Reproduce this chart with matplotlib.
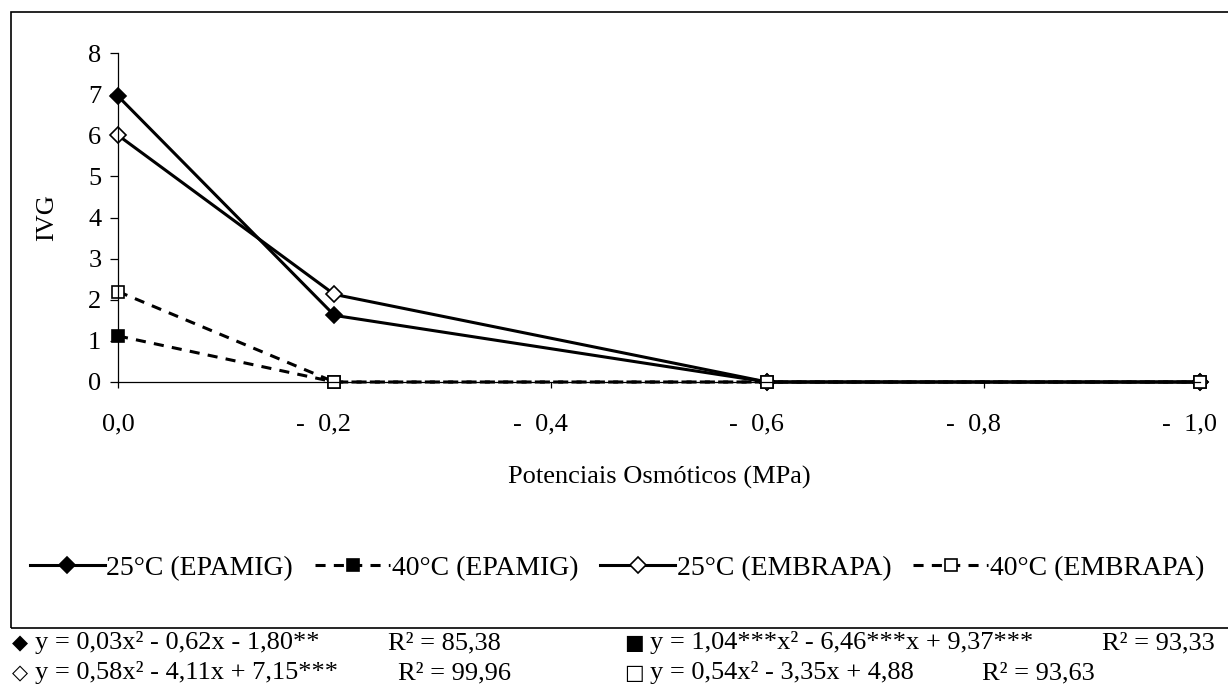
import numpy as np
import matplotlib
matplotlib.use("Agg")
import matplotlib.pyplot as plt
from matplotlib.patches import Rectangle
from matplotlib.transforms import ScaledTranslation

plt.rcParams['font.family'] = ['Liberation Serif', 'DejaVu Sans']

# data
potenciais = [0.0, -0.2, -0.6, -1.0]
ivg_25_epamig = [6.95, 1.62, 0.0, 0.0]
ivg_40_epamig = [1.12, 0.0, 0.0, 0.0]
ivg_25_embrapa = [6.0, 2.13, 0.0, 0.0]
ivg_40_embrapa = [2.2, 0.0, 0.0, 0.0]

xticks = [0.0, -0.2, -0.4, -0.6, -0.8, -1.0]
xticklabels = ['0,0', '-  0,2', '-  0,4', '-  0,6', '-  0,8', '-  1,0']
labels = ['25°C (EPAMIG)', '40°C (EPAMIG)', '25°C (EMBRAPA)', '40°C (EMBRAPA)']

W, H = 1228, 696
fig = plt.figure(figsize=(W / 100, H / 100), dpi=100)

def fx(px):
    return px / W

def fy(py):
    return 1 - py / H

# outer chart frame (right edge runs off the picture)
fig.patches.append(Rectangle((fx(11), fy(628)), 1.2, fy(12) - fy(628),
                             transform=fig.transFigure, fill=False,
                             edgecolor='black', linewidth=1.2))

top_px, zero_px = 53, 382
ax = fig.add_axes([fx(118), fy(zero_px), fx(1200) - fx(118), fy(top_px) - fy(zero_px)])

dash = (0, (3.3, 2.7))
styles = [
    dict(ls='-', marker='D', mfc='black'),
    dict(ls=dash, marker='s', mfc='black'),
    dict(ls='-', marker='D', mfc='white'),
    dict(ls=dash, marker='s', mfc='white'),
]
series = [ivg_25_epamig, ivg_40_epamig, ivg_25_embrapa, ivg_40_embrapa]
handles = []
for vals, st, lab in zip(series, styles, labels):
    ln, = ax.plot(potenciais, vals, color='black', linewidth=2.2,
                  linestyle=st['ls'], marker=st['marker'], markersize=8.5,
                  markerfacecolor=st['mfc'], markeredgecolor='black',
                  markeredgewidth=1.2, clip_on=False, label=lab)
    handles.append(ln)

fs = 19
ax.set_xlim(0, -1.0)
ax.set_ylim(0, 8)
ax.set_yticks(range(0, 9))
ax.set_xticks(xticks)
ax.set_xticklabels(xticklabels)
for sp in ['top', 'right']:
    ax.spines[sp].set_visible(False)
for sp in ['left', 'bottom']:
    ax.spines[sp].set_linewidth(0.9)
ax.tick_params(axis='y', direction='out', length=6, width=0.9, labelsize=fs, pad=6)
ax.tick_params(axis='x', direction='out', length=4.5, width=0.9, labelsize=fs, pad=18)
off = ScaledTranslation(0.17, 0, fig.dpi_scale_trans)
for lbl in ax.get_xticklabels():
    lbl.set_horizontalalignment('right')
    lbl.set_transform(lbl.get_transform() + off)

ax.set_xlabel('Potenciais Osmóticos (MPa)', fontsize=fs, va='center')
ax.xaxis.set_label_coords(0.5, (zero_px - 477) / (zero_px - top_px))
fig.text(fx(47), fy(218), 'IVG', rotation=90, fontsize=fs, ha='center', va='center')

fig.legend(handles=handles, loc='center', bbox_to_anchor=(fx(617), fy(568)),
           ncol=4, frameon=False, fontsize=20, handlelength=2.7,
           handletextpad=0.05, columnspacing=0.8)

# regression equations below the frame
eq_size = 19
sym_size = 15
rows = [
    (20, 643, '◆', 35, 'y = 0,03x² - 0,62x - 1,80**', 388, 'R² = 85,38'),
    (20, 673, '◇', 35, 'y = 0,58x² - 4,11x + 7,15***', 398, 'R² = 99,96'),
    (634, 643, '■', 650, 'y = 1,04***x² - 6,46***x + 9,37***', 1102, 'R² = 93,33'),
    (634, 673, '□', 650, 'y = 0,54x² - 3,35x + 4,88', 982, 'R² = 93,63'),
]
for sx, yy, sym, tx, eq, rx, r2 in rows:
    fig.text(fx(sx), fy(yy), sym, fontsize=sym_size, ha='center', va='center',
             family='DejaVu Sans')
    fig.text(fx(tx), fy(yy), eq, fontsize=eq_size, va='center')
    fig.text(fx(rx), fy(yy), r2, fontsize=eq_size, va='center')

fig.savefig('out.png', dpi=100)
